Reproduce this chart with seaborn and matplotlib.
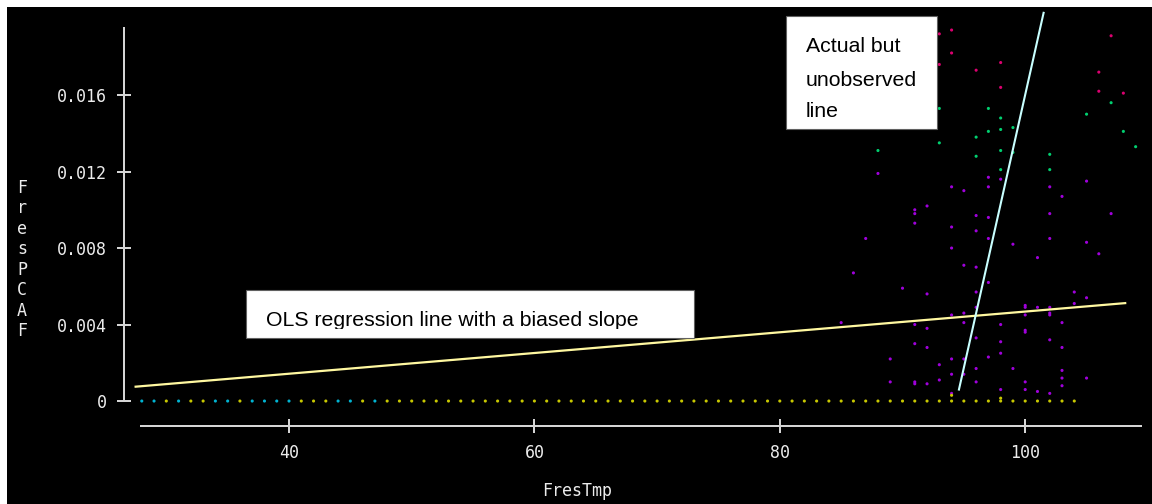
import matplotlib
matplotlib.use("Agg")
import matplotlib.pyplot as plt
from matplotlib.patches import Rectangle
from matplotlib.transforms import Bbox, TransformedBbox
import pandas as pd
import seaborn as sns

# ---------------- data ----------------
# residual PCAF against residual temperature, grouped by value band
low_x = [94, 88, 97, 97, 95, 91, 91, 92, 91, 96, 97, 94, 96, 87, 97, 94, 86, 95,
         96, 97, 90, 92, 96, 96, 94, 95, 85, 95, 91, 92, 96, 91, 92, 97, 89, 94,
         95, 93, 96, 95, 89, 91, 91, 92, 93, 94, 96, 94,
         98, 102, 105, 103, 102, 107, 99, 102, 105, 101, 106, 104, 105, 104, 100,
         100, 101, 102, 102, 102, 100, 103, 98, 100, 100, 102, 98, 103, 98, 99,
         103, 103, 105, 100, 103, 98, 100, 101, 102]
low_y = [0.0112, 0.0119, 0.0117, 0.0112, 0.0110, 0.0100, 0.0098, 0.0102, 0.0093,
         0.0097, 0.0096, 0.0091, 0.0089, 0.0085, 0.0085, 0.0080, 0.0067, 0.0071,
         0.0070, 0.0062, 0.0059, 0.0056, 0.0057, 0.0049, 0.0045, 0.0046, 0.0041,
         0.0041, 0.0040, 0.0038, 0.0033, 0.0030, 0.0028, 0.0023, 0.0022, 0.0022,
         0.0022, 0.0019, 0.0017, 0.0014, 0.0010, 0.0010, 0.0009, 0.0009, 0.0011,
         0.0014, 0.0010, 0.0004,
         0.0116, 0.0112, 0.0115, 0.0107, 0.0098, 0.0098, 0.0082, 0.0085, 0.0083,
         0.0075, 0.0077, 0.0057, 0.0054, 0.0051, 0.0050, 0.0049, 0.0049, 0.0049,
         0.0046, 0.0045, 0.0045, 0.0041, 0.0040, 0.0037, 0.0036, 0.0032, 0.0031,
         0.0028, 0.0025, 0.0017, 0.0016, 0.0012, 0.0012, 0.0010, 0.0008, 0.0006,
         0.0006, 0.0005, 0.0004]
mid_x = [93, 97, 96, 97, 93, 88, 96, 107, 98, 105, 98, 99, 108, 109, 98, 99, 102,
         98, 102]
mid_y = [0.0153, 0.0153, 0.0138, 0.0141, 0.0135, 0.0131, 0.0128, 0.0156, 0.0148,
         0.0150, 0.0142, 0.0143, 0.0141, 0.0133, 0.0131, 0.0130, 0.0129, 0.0121,
         0.0121]
high_x = [94, 93, 94, 93, 96, 107, 98, 106, 98, 106, 108]
high_y = [0.0194, 0.0192, 0.0182, 0.0176, 0.0173, 0.0191, 0.0177, 0.0172, 0.0164,
          0.0162, 0.0161]
zero_cyan_x = [28, 29, 31, 34, 35, 37, 38, 39, 40, 44, 45, 47]
zero_yellow_x = [30, 32, 33, 36, 41, 42, 43, 46, 48, 49, 50, 51, 52, 53, 54, 55,
                 56, 57, 58, 59, 60, 61, 62, 63, 64, 65, 66, 67, 68, 69, 70, 71,
                 72, 73, 74, 75, 76, 77, 78, 79, 80, 81, 82, 83, 84, 85, 86, 87,
                 88, 89, 90, 91, 92, 93, 94, 95, 96, 97, 98, 99, 100, 101, 102,
                 103, 104]
near_zero_x = [94, 98]
near_zero_y = [0.0003, 0.00015]

# fitted lines (end points)
ols_x = [27.5, 108.15]
ols_y = [0.00075, 0.00512]
true_x = [94.6, 101.5]
true_y = [0.0006, 0.0203]

x_ticks = [40, 60, 80, 100]
y_ticks = [0, 0.004, 0.008, 0.012, 0.016]
y_tick_labels = ["0", "0.004", "0.008", "0.012", "0.016"]
x_label = "FresTmp"
y_label = "FresPCAF"
ols_note = "OLS regression line with a biased slope"
true_note = ["Actual but", "unobserved", "line"]

frames = [
    pd.DataFrame({"x": low_x, "y": low_y, "band": "low"}),
    pd.DataFrame({"x": mid_x, "y": mid_y, "band": "mid"}),
    pd.DataFrame({"x": high_x, "y": high_y, "band": "high"}),
    pd.DataFrame({"x": zero_cyan_x, "y": [0.0] * len(zero_cyan_x), "band": "zero_a"}),
    pd.DataFrame({"x": zero_yellow_x, "y": [0.0] * len(zero_yellow_x), "band": "zero_b"}),
    pd.DataFrame({"x": near_zero_x, "y": near_zero_y, "band": "zero_b"}),
]
df = pd.concat(frames, ignore_index=True)
palette = {"low": "#a000dc", "mid": "#00d070", "high": "#dc0070",
           "zero_a": "#00b4d2", "zero_b": "#c8c800"}

# ---------------- figure ----------------
plt.rcParams["font.family"] = ["DejaVu Sans Mono"]
W, H = 1152, 504
fig = plt.figure(figsize=(W / 100, H / 100), dpi=100, facecolor="white")


def fx(px):
    return px / W


def fy(py):
    return (H - py) / H


# dark plotting canvas, leaving a thin white margin at top and left
fig.add_artist(Rectangle((fx(7), 0), 1 - fx(7), fy(7), transform=fig.transFigure,
                         facecolor="black", edgecolor="none", zorder=-10))

ax = fig.add_axes([fx(129.5), fy(412.5), (1147.9 - 129.5) / W, (412.5 - 9.0) / H])
ax.set_facecolor("none")

sns.scatterplot(data=df, x="x", y="y", hue="band", palette=palette, marker="o",
                s=5, linewidth=0, legend=False, ax=ax, zorder=2)
sns.lineplot(x=ols_x, y=ols_y, color="#fff8a0", linewidth=1.6, estimator=None,
             sort=False, ax=ax, zorder=3)
sns.lineplot(x=true_x, y=true_y, color="#c8ffff", linewidth=1.5, estimator=None,
             sort=False, ax=ax, zorder=3)

ax.set_xlim(27, 110)
ax.set_ylim(-0.0006, 0.0205)

axis_color = "#d4d4d4"
for side in ("top", "right"):
    ax.spines[side].set_visible(False)
ax.spines["left"].set_position(("outward", 5.5 * 0.72))
ax.spines["bottom"].set_position(("outward", 13.5 * 0.72))
ax.spines["left"].set_bounds(0, 0.0195)
ax.spines["bottom"].set_bounds(27.9, 109.4)
for side in ("left", "bottom"):
    ax.spines[side].set_color(axis_color)
    ax.spines[side].set_linewidth(1.44)

ax.set_xticks(x_ticks, labels=[str(t) for t in x_ticks])
ax.set_yticks(y_ticks, labels=y_tick_labels)
ax.tick_params(direction="inout", length=9.4, width=1.44, color=axis_color,
               labelcolor="#ececec", labelsize=12)
ax.tick_params(axis="y", pad=7.9)
ax.tick_params(axis="x", pad=8.0)
ax.set_xlabel("")
ax.set_ylabel("")

fig.text(fx(577), fy(491.5), x_label, ha="center", va="center", fontsize=12,
         color="#ececec")
fig.text(fx(22), fy(259.5), "\n".join(y_label), ha="center", va="center",
         fontsize=12, color="#ececec", linespacing=1.18, multialignment="center")

# annotation boxes
note_font = dict(family="Liberation Sans", fontsize=15.3, color="black")
fig.add_artist(Rectangle((fx(786), fy(129)), (937 - 786) / W, (129 - 16) / H,
                         transform=fig.transFigure, facecolor="white",
                         edgecolor="#606060", linewidth=0.8, zorder=5))
for line, base in zip(true_note, [52, 86, 117]):
    fig.text(fx(806), fy(base), line, ha="left", va="baseline", zorder=6,
             **note_font)

fig.add_artist(Rectangle((fx(246), fy(338)), (694 - 246) / W, (338 - 290) / H,
                         transform=fig.transFigure, facecolor="white",
                         edgecolor="#606060", linewidth=0.8, zorder=5))
ols_text = fig.text(fx(266), fy(326), ols_note, ha="left", va="baseline",
                    zorder=6, **note_font)
ols_text.set_clip_box(TransformedBbox(
    Bbox.from_extents(fx(246), fy(329), fx(694), fy(290)), fig.transFigure))
ols_text.set_clip_on(True)

fig.savefig("out.png", dpi=100, facecolor=fig.get_facecolor())
